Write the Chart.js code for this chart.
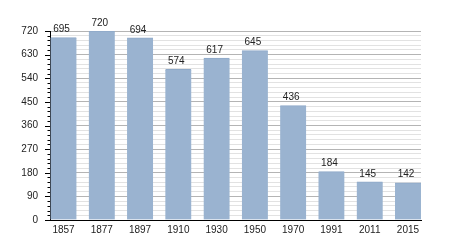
<!DOCTYPE html>
<html>
<head>
<meta charset="utf-8">
<script src="https://cdn.jsdelivr.net/npm/chart.js@4"></script>
<style>
  body { margin: 0; background: #fff; }
  canvas { display: block; }
</style>
</head>
<body>
<canvas id="popChart" width="450" height="250"></canvas>
<script>
const years = ['1857', '1877', '1897', '1910', '1930', '1950', '1970', '1991', '2011', '2015'];
const population = [695, 720, 694, 574, 617, 645, 436, 184, 145, 142];
const yMax = 720;
const yMajorStep = 90;
const yMinorStep = 18;

const fontFamily = '"Liberation Sans", Arial, sans-serif';

// value labels above each bar
const valueLabels = {
    id: 'valueLabels',
    afterDatasetsDraw(chart) {
        const ctx = chart.ctx;
        const meta = chart.getDatasetMeta(0);
        ctx.save();
        ctx.font = '10px ' + fontFamily;
        ctx.fillStyle = '#222';
        ctx.textAlign = 'center';
        ctx.textBaseline = 'bottom';
        meta.data.forEach((bar, i) => {
            ctx.fillText(String(population[i]), bar.x - 2, bar.y - 3);
        });
        ctx.restore();
    }
};

// major and minor tick marks on the y axis
const yTickMarks = {
    id: 'yTickMarks',
    afterDraw(chart) {
        const ctx = chart.ctx;
        const y = chart.scales.y;
        const left = chart.chartArea.left;
        ctx.save();
        ctx.strokeStyle = '#000';
        ctx.lineWidth = 1;
        y.ticks.forEach(t => {
            const py = Math.round(y.getPixelForValue(t.value)) + 0.5;
            const len = t.value % yMajorStep === 0 ? 5 : 2.5;
            ctx.beginPath();
            ctx.moveTo(left - len, py);
            ctx.lineTo(left, py);
            ctx.stroke();
        });
        ctx.restore();
    }
};

function createChart() {
    const ctx = document.getElementById('popChart').getContext('2d');
    return new Chart(ctx, {
        type: 'bar',
        data: {
            datasets: [{
                data: population.map((v, i) => ({ x: i, y: v })),
                backgroundColor: '#9ab3d0',
                borderColor: '#8ea9c8',
                borderWidth: { top: 1, left: 0, right: 0, bottom: 0 },
                borderSkipped: 'bottom',
                barThickness: 26
            }]
        },
        options: {
            responsive: false,
            devicePixelRatio: 1,
            animation: false,
            layout: {
                padding: { top: 31, right: 29, left: 0, bottom: 0 }
            },
            plugins: {
                legend: { display: false },
                tooltip: { enabled: false }
            },
            scales: {
                x: {
                    type: 'linear',
                    offset: false,
                    bounds: 'data',
                    min: -0.353,
                    max: 9.34,
                    afterBuildTicks: scale => {
                        scale.ticks = years.map((y, i) => ({ value: i }));
                    },
                    afterFit: scale => { scale.height = 30; },
                    grid: { display: false, drawTicks: false },
                    border: { display: true, color: '#000', width: 1 },
                    ticks: {
                        autoSkip: false,
                        maxRotation: 0,
                        padding: 4,
                        color: '#222',
                        font: { family: fontFamily, size: 10 },
                        callback: v => years[v]
                    }
                },
                y: {
                    min: 0,
                    max: yMax,
                    afterFit: scale => { scale.width = 50; },
                    grid: {
                        drawTicks: false,
                        color: c => c.tick && c.tick.value % yMajorStep === 0 ? '#b4b4b4' : '#e2e2e2'
                    },
                    border: { display: true, color: '#000', width: 1 },
                    ticks: {
                        stepSize: yMinorStep,
                        autoSkip: false,
                        padding: 12,
                        color: '#222',
                        font: { family: fontFamily, size: 10 },
                        callback: v => v % yMajorStep === 0 ? String(v) : ''
                    }
                }
            }
        },
        plugins: [valueLabels, yTickMarks]
    });
}

createChart();
</script>
</body>
</html>
